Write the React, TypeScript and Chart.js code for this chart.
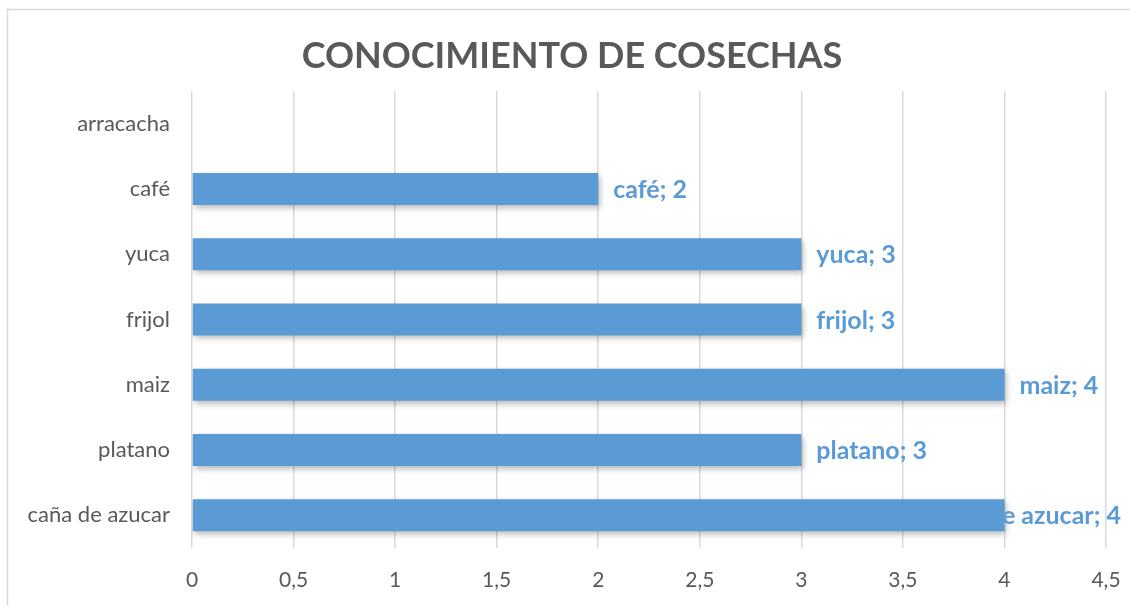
import React, { useEffect, useRef } from "react";
import { Chart, registerables } from "chart.js";

Chart.register(...registerables);

const categories = ["arracacha", "café", "yuca", "frijol", "maiz", "platano", "caña de azucar"];
const values: (number | null)[] = [null, 2, 3, 3, 4, 3, 4];
const xTicks = [0, 0.5, 1, 1.5, 2, 2.5, 3, 3.5, 4, 4.5];
const title = "CONOCIMIENTO DE COSECHAS";

const BAR = "#5B9BD5";
const TEXT = "#595959";
const GRID = "#D9D9D9";
const FONT = "Lato, Carlito, 'Liberation Sans', sans-serif";

const frame = {
  id: "frame",
  beforeDraw(chart: any) {
    const ctx = chart.ctx;
    ctx.save();
    ctx.fillStyle = "#ffffff";
    ctx.fillRect(0, 0, chart.width, chart.height);
    ctx.strokeStyle = GRID;
    ctx.lineWidth = 1.5;
    ctx.strokeRect(7.5, 9.5, chart.width + 20, chart.height + 20);
    ctx.restore();
  },
};

const titlePlugin = {
  id: "titleText",
  afterDraw(chart: any) {
    const ctx = chart.ctx;
    ctx.save();
    ctx.font = `bold 36px ${FONT}`;
    ctx.fillStyle = TEXT;
    ctx.textAlign = "center";
    ctx.textBaseline = "alphabetic";
    ctx.fillText(title, 572, 68);
    ctx.restore();
  },
};

const shadow = {
  id: "barShadow",
  beforeDatasetsDraw(chart: any) {
    const ctx = chart.ctx;
    ctx.save();
    ctx.shadowColor = "rgba(0,0,0,0.28)";
    ctx.shadowBlur = 6;
    ctx.shadowOffsetX = 2;
    ctx.shadowOffsetY = 3;
  },
  afterDatasetsDraw(chart: any) {
    chart.ctx.restore();
  },
};

const dataLabels = {
  id: "dataLabels",
  afterDatasetsDraw(chart: any) {
    const ctx = chart.ctx;
    const meta = chart.getDatasetMeta(0);
    ctx.save();
    ctx.font = `bold 25px ${FONT}`;
    ctx.fillStyle = BAR;
    ctx.textBaseline = "middle";
    meta.data.forEach((bar: any, i: number) => {
      const v = values[i];
      if (v === null || v === undefined) return;
      const text = `${categories[i]}; ${v}`;
      const w = ctx.measureText(text).width;
      let x = bar.x + 15;
      const limit = chart.width - 9;
      ctx.save();
      if (x + w > limit) {
        x = limit - w;
        ctx.beginPath();
        ctx.rect(bar.x, 0, chart.width - bar.x, chart.height);
        ctx.clip();
      }
      ctx.textAlign = "left";
      ctx.fillText(text, x, bar.y + 1);
      ctx.restore();
    });
    ctx.restore();
  },
};

export default function App() {
  const ref = useRef<HTMLCanvasElement>(null);
  useEffect(() => {
    if (!ref.current) return;
    const chart = new Chart(ref.current, {
      type: "bar",
      data: {
        labels: categories,
        datasets: [
          {
            data: values as any,
            backgroundColor: BAR,
            borderWidth: 0,
            categoryPercentage: 1,
            barPercentage: 0.49,
          },
        ],
      },
      options: {
        indexAxis: "y",
        animation: false,
        responsive: false,
        devicePixelRatio: 1,
        layout: { padding: { top: 91, right: 24, bottom: 0, left: 0 } },
        plugins: {
          legend: { display: false },
          tooltip: { enabled: false },
          title: { display: false },
        },
        scales: {
          x: {
            type: "linear",
            min: 0,
            max: 4.5,
            afterBuildTicks: (s: any) => {
              s.ticks = xTicks.map((v) => ({ value: v }));
            },
            afterFit: (s: any) => {
              s.height = 57;
              s.paddingLeft = 0;
              s.paddingRight = 0;
            },
            grid: { color: GRID, lineWidth: 1.5, drawTicks: false },
            border: { display: false },
            ticks: {
              color: TEXT,
              padding: 20,
              font: { family: FONT, size: 21 },
              callback: (v: any) => String(v).replace(".", ","),
            },
          },
          y: {
            afterFit: (s: any) => {
              s.width = 192;
              s.paddingTop = 0;
              s.paddingBottom = 0;
            },
            grid: { display: false, drawTicks: false },
            border: { display: false },
            ticks: {
              color: TEXT,
              padding: 22,
              font: { family: FONT, size: 22 },
            },
          },
        },
      },
      plugins: [frame, shadow, dataLabels, titlePlugin],
    });
    return () => chart.destroy();
  }, []);
  return (
    <div style={{ position: "absolute", left: 0, top: 0, width: 1130, height: 605 }}>
      <canvas ref={ref} width={1130} height={605} />
    </div>
  );
}
